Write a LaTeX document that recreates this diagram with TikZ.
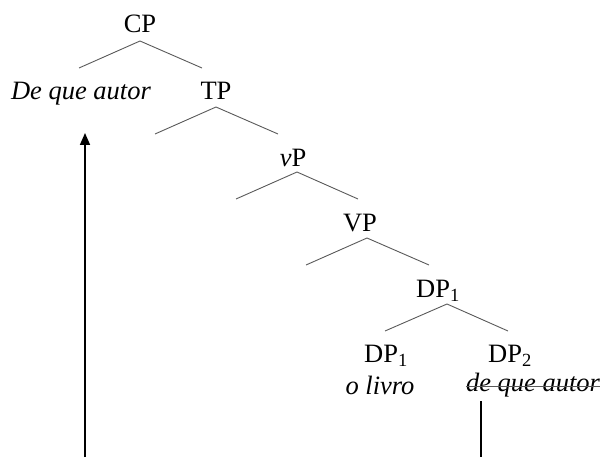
\documentclass[tikz,border=0pt]{standalone}
\usepackage{fontspec}
\setmainfont{Liberation Serif}
\usetikzlibrary{arrows.meta}
\begin{document}
\begin{tikzpicture}[x=1pt,y=-1pt,
  lbl/.style={inner sep=0pt,font=\fontsize{26.5}{30}\selectfont},
  branch/.style={draw=black!65,line width=0.9pt},
  move/.style={draw=black,line width=1.6pt}]
\useasboundingbox (0,0) rectangle (601,457);
% node labels
\node[lbl] (cp) at (140,24) {CP};
\node[lbl] (wh) at (81,94) {\itshape De que autor};
\node[lbl] (tp) at (216,91) {TP};
\node[lbl] (vp) at (293,158) {\textit{v}P};
\node[lbl] (VP) at (360,223) {VP};
\node[lbl] (dp) at (438,291) {DP\textsubscript{1}};
\node[lbl] (dpa) at (386,356) {DP\textsubscript{1}};
\node[lbl] (dpb) at (510,356) {DP\textsubscript{2}};
\node[lbl] (livro) at (380,385) {\itshape o livro};
\node[lbl] (copy) at (533,385) {\itshape de que autor};
% strike-through of the lower copy
\draw[branch] ([yshift=-1pt]copy.west) -- ([yshift=-1pt]copy.east);
% branches
\coordinate (a1) at (140,41); \coordinate (l1) at (79,68); \coordinate (r1) at (202,68);
\coordinate (a2) at (216,107); \coordinate (l2) at (155,134); \coordinate (r2) at (278,134);
\coordinate (a3) at (297,172); \coordinate (l3) at (236,199); \coordinate (r3) at (358,199);
\coordinate (a4) at (367,238); \coordinate (l4) at (306,265); \coordinate (r4) at (429,265);
\coordinate (a5) at (447,304); \coordinate (l5) at (385,331); \coordinate (r5) at (508,331);
\draw[branch] (l1) -- (a1) -- (r1);
\draw[branch] (l2) -- (a2) -- (r2);
\draw[branch] (l3) -- (a3) -- (r3);
\draw[branch] (l4) -- (a4) -- (r4);
\draw[branch] (l5) -- (a5) -- (r5);
% movement path
\coordinate (up0) at (85,457); \coordinate (up1) at (85,133);
\coordinate (dn0) at (481,401); \coordinate (dn1) at (481,457);
\draw[move,-{Triangle[length=12pt,width=10pt]}] (up0) -- (up1);
\draw[move] (dn0) -- (dn1);
\end{tikzpicture}
\end{document}
